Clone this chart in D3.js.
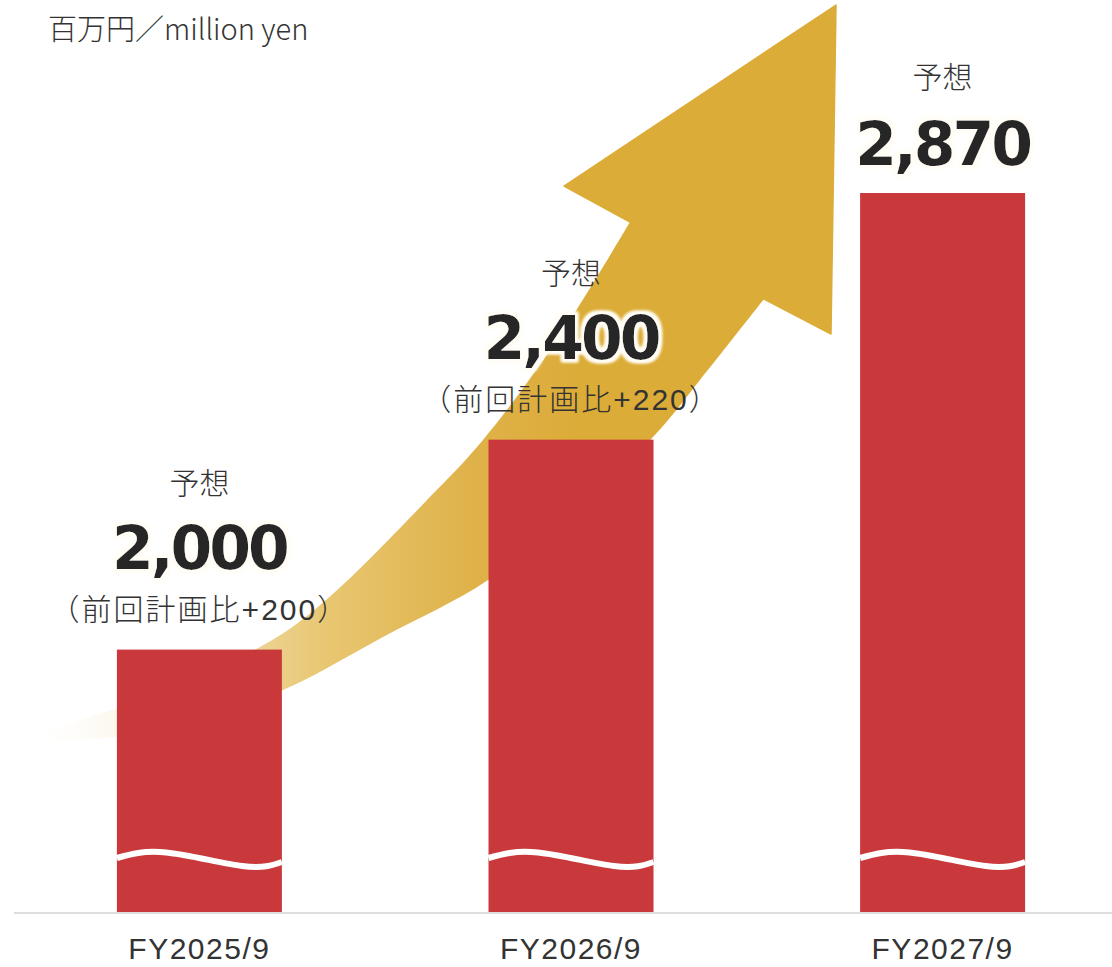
<!DOCTYPE html>
<html>
<head>
<meta charset="utf-8">
<script src="https://cdn.jsdelivr.net/npm/d3@7"></script>
<style>
    body { margin: 0; background: #fff; }
    svg { display: block; }
</style>
</head>
<body>
<svg id="chart" width="1112" height="967"></svg>
<script>
const CHART = d3.select('#chart');

// data
const categories = ['FY2025/9', 'FY2026/9', 'FY2027/9'];
const values = [2000, 2400, 2870];
const tags = ['予想', '予想', '予想'];
const vsPlan = ['（前回計画比+200）', '（前回計画比+220）', ''];
const unitLabel = '百万円／million yen';
const axisFloor = 1500; // broken axis: bars start here

const baseY = 912;
const breakY = 859;
const jpFont = '"Noto Sans CJK JP", "Noto Sans", sans-serif';
const mixFont = '"Liberation Sans", "Noto Sans CJK JP", sans-serif';

let x = d3.scaleBand()
    .domain(categories)
    .range([24, 1118])
    .paddingInner(0.556)
    .paddingOuter(0.25);

let y = d3.scaleLinear()
    .domain([axisFloor, d3.max(values)])
    .range([baseY, 193]);

let defs = CHART.append('defs');

let grad = defs.append('linearGradient')
    .attr('id', 'shaftGrad')
    .attr('gradientUnits', 'userSpaceOnUse')
    .attr('x1', 25).attr('y1', 0)
    .attr('x2', 580).attr('y2', 0);

[
    [0, '#ffffff', 0],
    [0.16, '#f7ecd0', 0.35],
    [0.33, '#f0dcaa', 1],
    [0.55, '#e8c670', 1],
    [0.8, '#dfb24a', 1],
    [1, '#dcac38', 1]
].forEach(s => {
    grad.append('stop')
        .attr('offset', s[0])
        .attr('stop-color', s[1])
        .attr('stop-opacity', s[2]);
});

let glow = defs.append('filter')
    .attr('id', 'glow')
    .attr('x', '-20%').attr('y', '-30%')
    .attr('width', '140%').attr('height', '160%');
glow.append('feMorphology')
    .attr('in', 'SourceAlpha')
    .attr('operator', 'dilate')
    .attr('radius', 2.5)
    .attr('result', 'thick');
glow.append('feGaussianBlur')
    .attr('in', 'thick')
    .attr('stdDeviation', 1.8)
    .attr('result', 'soft');
glow.append('feFlood')
    .attr('flood-color', '#fffdf5');
glow.append('feComposite')
    .attr('in2', 'soft')
    .attr('operator', 'in')
    .attr('result', 'halo');
let merge = glow.append('feMerge');
merge.append('feMergeNode').attr('in', 'halo');
merge.append('feMergeNode').attr('in', 'halo');
merge.append('feMergeNode').attr('in', 'SourceGraphic');

// decorative growth arrow
const arrowUpper = [
    [25, 737], [117, 708], [200, 676], [282, 634], [335, 592],
    [427, 500], [483, 440], [557, 340], [630, 222]
];
const arrowHead = [[564, 186], [836, 5], [831, 334], [764, 299]];
const arrowLower = [
    [764, 299], [700, 380], [653, 437], [570, 512], [488, 580],
    [383, 637], [283, 690], [200, 718], [117, 737], [25, 741]
];

let edge = d3.line().curve(d3.curveCatmullRom.alpha(0.5));
let shaftPath = edge(arrowUpper) + 'L' + edge(arrowLower).slice(1) + 'Z';

CHART.append('path')
    .attr('d', shaftPath)
    .attr('fill', 'url(#shaftGrad)');

CHART.append('path')
    .attr('d', 'M' + [arrowUpper[arrowUpper.length - 1]].concat(arrowHead).map(p => p.join(',')).join('L') + 'Z')
    .attr('fill', '#dcac38')
    .attr('stroke', '#dcac38')
    .attr('stroke-width', 1.5)
    .attr('stroke-linejoin', 'round');

// baseline
CHART.append('line')
    .attr('x1', 14)
    .attr('x2', 1112)
    .attr('y1', baseY + 1)
    .attr('y2', baseY + 1)
    .attr('stroke', '#dedede')
    .attr('stroke-width', 2);

// bars
CHART.selectAll('rect.bar')
    .data(values)
    .enter()
    .append('rect')
    .attr('class', 'bar')
    .attr('x', (d, i) => x(categories[i]))
    .attr('y', d => y(d))
    .attr('width', x.bandwidth())
    .attr('height', d => baseY - y(d))
    .attr('fill', '#c9393b');

// axis break wave
let wave = d3.line().curve(d3.curveNatural);
CHART.selectAll('path.wave')
    .data(categories)
    .enter()
    .append('path')
    .attr('class', 'wave')
    .attr('d', c => {
        let x0 = x(c), w = x.bandwidth();
        return wave([
            [x0, breakY - 1],
            [x0 + w * 0.3, breakY - 6.5],
            [x0 + w * 0.76, breakY + 7],
            [x0 + w, breakY + 3]
        ]);
    })
    .attr('fill', 'none')
    .attr('stroke', '#fff')
    .attr('stroke-width', 6);

// unit label
CHART.append('text')
    .attr('x', 48)
    .attr('y', 40)
    .attr('font-family', jpFont)
    .attr('font-weight', 300)
    .attr('font-size', 29)
    .attr('fill', '#333')
    .text(unitLabel);

// category labels
CHART.selectAll('text.cat')
    .data(categories)
    .enter()
    .append('text')
    .attr('class', 'cat')
    .attr('x', d => x(d) + x.bandwidth() / 2)
    .attr('y', 959)
    .attr('text-anchor', 'middle')
    .attr('font-family', mixFont)
    .attr('font-size', 30)
    .attr('letter-spacing', 1.5)
    .attr('fill', '#333')
    .text(d => d);

// value labels
let labels = CHART.selectAll('g.label')
    .data(values)
    .enter()
    .append('g')
    .attr('class', 'label')
    .attr('transform', (d, i) => `translate(${x(categories[i]) + x.bandwidth() / 2},${y(d)})`);

labels.append('text')
    .attr('y', (d, i) => vsPlan[i] ? -30 : 0)
    .attr('text-anchor', 'middle')
    .attr('font-family', mixFont)
    .attr('font-weight', 300)
    .attr('font-size', 30)
    .attr('letter-spacing', 2)
    .attr('fill', '#333')
    .text((d, i) => vsPlan[i]);

labels.append('text')
    .attr('y', (d, i) => vsPlan[i] ? -81 : -28)
    .attr('text-anchor', 'middle')
    .attr('font-family', '"DejaVu Sans", sans-serif')
    .attr('font-weight', 'bold')
    .attr('font-size', 60)
    .attr('letter-spacing', -3)
    .attr('fill', '#262626')
    .attr('filter', 'url(#glow)')
    .text(d => d3.format(',')(d));

labels.append('text')
    .attr('y', (d, i) => vsPlan[i] ? -156 : -105)
    .attr('text-anchor', 'middle')
    .attr('font-family', jpFont)
    .attr('font-weight', 300)
    .attr('font-size', 30)
    .attr('fill', '#333')
    .text((d, i) => tags[i]);
</script>
</body>
</html>
